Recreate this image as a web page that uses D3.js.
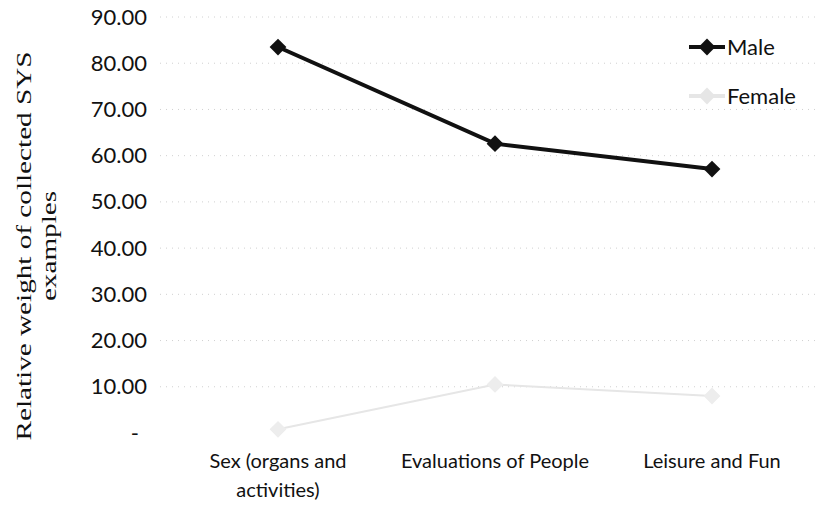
<!DOCTYPE html>
<html>
<head>
<meta charset="utf-8">
<script src="https://cdn.jsdelivr.net/npm/d3@7"></script>
<style>
body{margin:0;background:#fff}
text{font-family:Lato,"Open Sans",sans-serif;fill:#111}
</style>
</head>
<body>
<svg id="chart"></svg>
<script>
var categories = ["Sex (organs and activities)", "Evaluations of People", "Leisure and Fun"]
var catLines = [["Sex (organs and", "activities)"], ["Evaluations of People"], ["Leisure and Fun"]]
var male = [83.5, 62.6, 57.1]
var female = [0.8, 10.5, 8.0]
var yTicks = [0, 10, 20, 30, 40, 50, 60, 70, 80, 90]
var seriesNames = ["Male", "Female"]

var width = 823, height = 519
var svg = d3.select("#chart").attr("width", width).attr("height", height)

var x = d3.scalePoint().domain(categories).range([169.5, 820.5]).padding(0.5)
var y = d3.scaleLinear().domain([0, 90]).range([433, 17])

// gridlines
svg.append("g")
   .selectAll("line")
   .data(yTicks.filter(d => d > 0))
   .enter().append("line")
   .attr("x1", 160).attr("x2", 820)
   .attr("y1", d => y(d)).attr("y2", d => y(d))
   .attr("stroke", "#d0d0d0")
   .attr("stroke-width", 1)
   .attr("stroke-dasharray", "1,5")

// y axis labels
var yAxis = d3.axisLeft(y).tickValues(yTicks).tickSize(0).tickPadding(0)
   .tickFormat(d => d === 0 ? "-" : d3.format(".2f")(d))
var ya = svg.append("g").attr("transform", "translate(147,0)").call(yAxis)
ya.select(".domain").remove()
ya.selectAll("text").attr("font-size", "22px").attr("font-family", "Lato").attr("fill", "#111")
ya.selectAll(".tick").filter(d => d === 0).select("text").attr("dx", "-8px")

// y title (stretched like the scan)
var yt = svg.append("text")
   .attr("transform", "translate(37,246) rotate(-90) scale(1.46,1)")
   .attr("text-anchor", "middle")
   .style("font-family", "'Liberation Serif',serif")
   .attr("font-size", "20px")
yt.append("tspan").attr("x", 0).attr("dy", "-0.3em").text("Relative weight of collected SYS")
yt.append("tspan").attr("x", 0).attr("dy", "1.25em").text("examples")

// x labels
var xl = svg.append("g").selectAll("text")
   .data(categories)
   .enter().append("text")
   .attr("x", d => x(d))
   .attr("y", 468)
   .attr("text-anchor", "middle")
   .attr("font-size", "20px")
xl.each(function(d, i){
  var t = d3.select(this)
  catLines[i].forEach((s, j) => {
    t.append("tspan").attr("x", x(d)).attr("dy", j === 0 ? 0 : "1.45em").text(s)
  })
})

var line = d3.line().x((d, i) => x(categories[i])).y(d => y(d))
var diamond = d3.symbol().type(d3.symbolDiamond2).size(180)

// female (faded)
svg.append("path").datum(female)
   .attr("d", line).attr("fill", "none")
   .attr("stroke", "#e6e6e6").attr("stroke-width", 2)
svg.selectAll(".fdot").data(female).enter().append("path")
   .attr("class", "fdot")
   .attr("d", diamond)
   .attr("transform", (d, i) => `translate(${x(categories[i])},${y(d)})`)
   .attr("fill", "#ededed")

// male
svg.append("path").datum(male)
   .attr("d", line).attr("fill", "none")
   .attr("stroke", "#111").attr("stroke-width", 4)
svg.selectAll(".mdot").data(male).enter().append("path")
   .attr("class", "mdot")
   .attr("d", diamond)
   .attr("transform", (d, i) => `translate(${x(categories[i])},${y(d)})`)
   .attr("fill", "#111")

// legend
var lg = svg.append("g").attr("transform", "translate(689,47)")
var colors = ["#111", "#e6e6e6"]
seriesNames.forEach((n, i) => {
  var g = lg.append("g").attr("transform", `translate(0,${i * 49})`)
  g.append("line").attr("x1", 0).attr("x2", 36).attr("stroke", colors[i]).attr("stroke-width", 4)
  g.append("path").attr("d", diamond).attr("transform", "translate(18,0)").attr("fill", colors[i])
  g.append("text").attr("x", 38).attr("dy", "0.35em").attr("font-size", "22px").text(n)
})
</script>
</body>
</html>
